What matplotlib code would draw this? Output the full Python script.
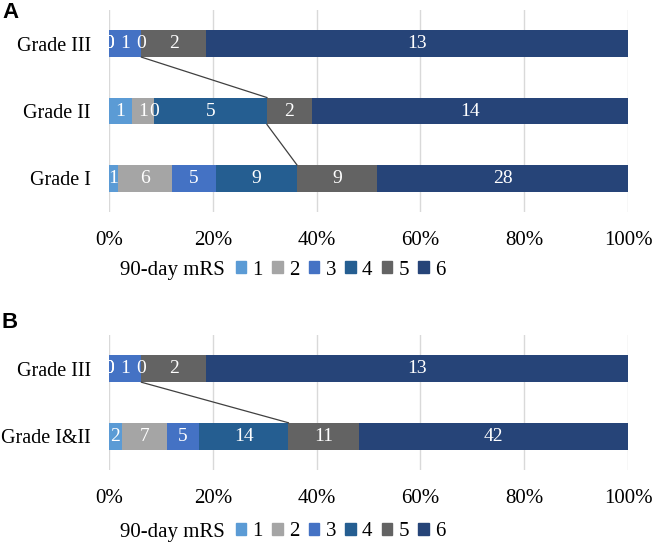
import matplotlib.pyplot as plt
import numpy as np
from matplotlib.patches import Patch

mrs_levels = ['1', '2', '3', '4', '5', '6']
colors = ['#5B9BD5', '#A5A5A5', '#4472C4', '#255E91', '#636363', '#264478']

# panel A (bottom to top)
grades_a = ['Grade I', 'Grade II', 'Grade III']
counts_a = [
    [1, 6, 5, 9, 9, 28],
    [1, 1, 0, 5, 2, 14],
    [0, 0, 1, 0, 2, 13],
]

# panel B (bottom to top)
grades_b = ['Grade I&II', 'Grade III']
counts_b = [
    [2, 7, 5, 14, 11, 42],
    [0, 0, 1, 0, 2, 13],
]

plt.rcParams['font.family'] = ['Liberation Serif', 'DejaVu Serif']

fs = 15
bar_h = 0.4
link_after = 4  # lines join the boundary after mRS 4


def draw_panel(ax, grades, counts):
    counts = np.array(counts, dtype=float)
    pct = counts / counts.sum(axis=1, keepdims=True)
    left = np.zeros(len(grades))
    y = np.arange(len(grades))
    for j in range(len(mrs_levels)):
        ax.barh(y, pct[:, j], left=left, height=bar_h, color=colors[j],
                edgecolor='none', zorder=2)
        for i in range(len(grades)):
            ax.text(left[i] + pct[i, j] / 2, y[i], '%d' % counts[i, j],
                    ha='center', va='center', color='white', fontsize=14,
                    zorder=4, clip_on=True)
        left = left + pct[:, j]
    cum = np.cumsum(pct, axis=1)[:, link_after - 1]
    for i in range(len(grades) - 1, 0, -1):
        ax.plot([cum[i], cum[i - 1]], [y[i] - bar_h / 2, y[i - 1] + bar_h / 2],
                color='#404040', lw=0.9, zorder=3)
    ax.set_xlim(0, 1)
    ax.set_ylim(-0.5, len(grades) - 0.5)
    ax.set_yticks(y)
    ax.set_yticklabels(grades, fontsize=14.5)
    ax.set_xticks(np.linspace(0, 1, 6))
    ax.set_xticklabels(['%d%%' % v for v in range(0, 101, 20)], fontsize=fs)
    ax.tick_params(axis='y', length=0, pad=13)
    ax.tick_params(axis='x', length=0, pad=14)
    ax.xaxis.grid(True, color='#D9D9D9', lw=1, zorder=0)
    ax.set_axisbelow(True)
    for s in ax.spines.values():
        s.set_visible(False)


fig = plt.figure(figsize=(6.53, 5.43), dpi=100)
ax_a = fig.add_axes([0.1669, 1 - 212 / 543, 0.7948, 202 / 543])
ax_b = fig.add_axes([0.1669, 1 - 470 / 543, 0.7948, 135 / 543])
draw_panel(ax_a, grades_a, counts_a)
draw_panel(ax_b, grades_b, counts_b)

fig.text(0.003, 1 - 13 / 543, 'A', fontsize=16, fontweight='bold',
         family='Liberation Sans', va='center')
fig.text(0.003, 1 - 323 / 543, 'B', fontsize=16, fontweight='bold',
         family='Liberation Sans', va='center')

handles = [Patch(color=c) for c in colors]
for ypix in (270, 532):
    yf = 1 - ypix / 543
    fig.text(120 / 653, yf, '90-day mRS', fontsize=fs, va='center')
    fig.legend(handles, mrs_levels, ncol=6, loc='center left',
               bbox_to_anchor=(236 / 653, yf), frameon=False, fontsize=fs,
               handlelength=0.5, handleheight=0.5, handletextpad=0.3,
               columnspacing=0.45, borderpad=0, borderaxespad=0)

fig.savefig('out.png', dpi=100)
